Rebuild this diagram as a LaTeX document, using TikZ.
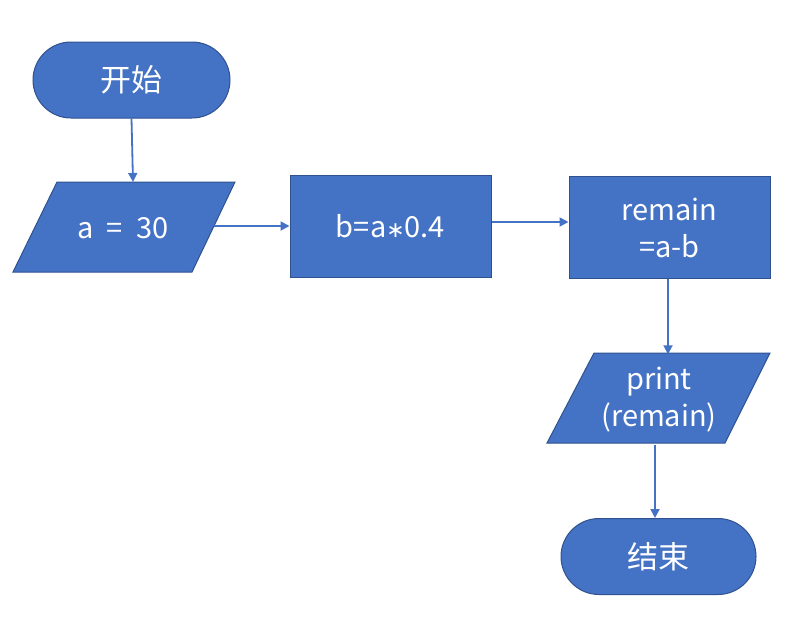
\documentclass[tikz,border=0pt]{standalone}
\usepackage{fontspec}
\setmainfont{Noto Sans CJK SC}
\newfontfamily\symfont{DejaVu Sans}
\usetikzlibrary{shapes.misc,arrows.meta}
\definecolor{boxfill}{HTML}{4472C4}
\definecolor{boxline}{HTML}{2F528F}
\begin{document}
\begin{tikzpicture}[x=1pt,y=-1pt,
  shapestyle/.style={fill=boxfill,draw=boxline,line width=1pt},
  base/.style={shapestyle,text=white,inner sep=0pt,align=center,
    font=\fontsize{29}{37}\selectfont},
  term/.style={base,rounded rectangle,minimum width=197pt,minimum height=76pt},
  proc/.style={base,rectangle,minimum width=201pt,minimum height=102pt},
  iotext/.style={text=white,inner sep=0pt,align=center,font=\fontsize{29}{37}\selectfont,
    minimum width=134pt,minimum height=90pt},
  conn/.style={draw=boxfill,line width=1.8pt,-{Triangle[length=9pt,width=9pt]}}]
\useasboundingbox (0,0) rectangle (799,629);
% input/output parallelograms
\path[shapestyle] (57,182) -- (235,182) -- (192,272) -- (13,272) -- cycle;
\path[shapestyle] (594,353) -- (770,353) -- (725,443) -- (547,443) -- cycle;
\node[term] (start) at (131.5,80) {\fontsize{31}{36}\selectfont 开始};
\node[iotext] (a30) at (123,228) {a\hspace{0.45em}=\hspace{0.45em}30};
\node[proc] (b) at (390.5,226.5) {b=a{\symfont\fontsize{22}{26}\selectfont ∗}0.4};
\node[proc] (rem) at (669.5,227.5) {remain\\=a-b};
\node[iotext] (pr) at (659,399.5) {print\\(remain)};
\node[term,minimum width=195pt] (end) at (658.5,556.5) {\fontsize{31}{36}\selectfont 结束};
\coordinate (t1) at (133,182);
\coordinate (a30e) at (213.5,226);
\draw[conn] (start.south) -- (t1);
\draw[conn] (a30e) -- (b.west |- a30e);
\draw[conn] (b.east |- 0,222) -- (rem.west |- 0,222);
\draw[conn] (rem.south -| 668,0) -- (pr.north -| 668,0);
\draw[conn] (pr.south -| 655,0) -- (end.north -| 655,0);
\end{tikzpicture}
\end{document}
